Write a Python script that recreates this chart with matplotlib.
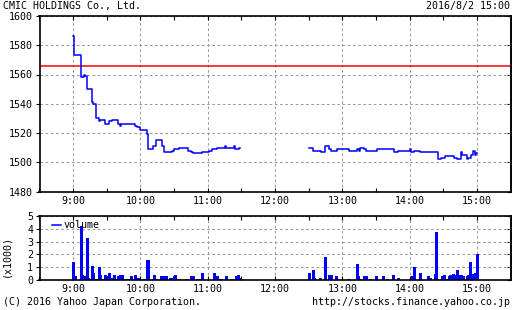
import matplotlib
matplotlib.use("Agg")
import matplotlib.pyplot as plt
from matplotlib.ticker import FixedLocator, FuncFormatter

# price steps: minutes after 9:00, yen
am_minutes = [0, 1, 7, 10, 11, 12, 17, 18, 20, 23, 24, 28, 32, 35, 40, 42, 43, 55, 57, 60,
              66, 67, 71, 74, 79, 81, 88, 90, 94, 102, 105, 107, 115, 121, 124, 128, 135,
              136, 143, 144, 148, 149]
am_prices = [1586, 1573, 1558, 1560, 1559, 1550, 1541, 1540, 1530, 1528, 1529, 1526, 1528,
             1529, 1526, 1525, 1526, 1525, 1524, 1522, 1519, 1509, 1511, 1515, 1511, 1507,
             1508, 1509, 1510, 1508, 1507, 1506, 1507, 1508, 1509, 1510, 1511, 1510, 1511,
             1509, 1510, 1510]
pm_minutes = [210, 214, 221, 225, 228, 230, 235, 246, 253, 255, 256, 259, 261, 271, 286,
              290, 300, 301, 304, 309, 325, 328, 332, 340, 342, 346, 347, 351, 352, 355,
              357, 358, 359, 360]
pm_prices = [1510, 1508, 1507, 1511, 1509, 1508, 1509, 1508, 1509, 1508, 1510, 1509, 1508,
             1509, 1507, 1508, 1509, 1507, 1508, 1507, 1502, 1503, 1504, 1503, 1502, 1507,
             1505, 1502, 1503, 1505, 1508, 1505, 1506, 1506]
prev_close = 1566

# volume (shares) per minute
vol_minutes = [0, 2, 7, 8, 10, 11, 12, 13, 15, 16, 17, 18, 20, 23, 24, 26, 28, 29, 32, 34,
               36, 38, 40, 42, 43, 44, 47, 50, 52, 55, 57, 59, 63, 66, 67, 71, 72, 74, 78,
               80, 82, 83, 86, 88, 90, 91, 94, 101, 105, 107, 110, 112, 115, 126, 128, 129,
               132, 136, 142, 145, 147, 148,
               210, 214, 215, 216, 220, 225, 228, 230, 234, 235, 245, 253, 254, 256, 259,
               261, 265, 270, 276, 280, 285, 290, 300, 302, 304, 309, 316, 318, 323, 324,
               329, 330, 331, 333, 335, 336, 338, 339, 340, 342, 343, 345, 346, 348, 351,
               352, 354, 356, 357, 358, 360]
volumes = [1400, 300, 4200, 400, 200, 300, 3300, 200, 100, 100, 1100, 600, 100, 1000, 400,
           100, 400, 300, 600, 200, 400, 100, 300, 400, 300, 400, 100, 100, 300, 400, 200,
           200, 100, 1600, 1600, 100, 400, 100, 300, 300, 300, 300, 200, 200, 300, 400, 100,
           100, 300, 300, 100, 100, 600, 600, 300, 100, 100, 300, 100, 300, 400, 200,
           600, 800, 200, 100, 200, 1800, 400, 400, 300, 100, 100, 1300, 300, 100, 300,
           300, 100, 300, 300, 100, 400, 200, 100, 300, 1000, 600, 300, 200, 500, 3700,
           300, 300, 400, 100, 300, 400, 300, 500, 400, 800, 400, 400, 400, 300, 300, 400,
           1400, 400, 500, 600, 2000]

hour_ticks = [0, 60, 120, 180, 240, 300, 360]
half_ticks = [-30, 30, 90, 150, 210, 270, 330, 390]
price_ticks = [1480, 1500, 1520, 1540, 1560, 1580, 1600]
vol_ticks = [0, 1, 2, 3, 4, 5]

FONT = "DejaVu Sans Mono"
FS = 7.2
BLUE = "#0000ff"
GRID = "#999999"
plt.rcParams["font.family"] = FONT


def hhmm(v, pos=None):
    m = int(v) + 9 * 60
    return "%d:%02d" % (m // 60, m % 60)


def style(ax, yticks):
    ax.set_xlim(-30, 390)
    ax.xaxis.set_major_locator(FixedLocator(hour_ticks))
    ax.xaxis.set_minor_locator(FixedLocator(half_ticks))
    ax.xaxis.set_major_formatter(FuncFormatter(hhmm))
    ax.set_yticks(yticks)
    ax.tick_params(axis="x", which="both", direction="in", top=True, bottom=True,
                   length=3, width=0.8, labelsize=FS, pad=3)
    ax.tick_params(axis="y", direction="out", length=3, width=0.8, labelsize=FS, pad=1.5)
    sec = ax.secondary_yaxis("right")
    sec.set_yticks(yticks)
    sec.tick_params(direction="in", length=3, width=0.8, labelright=False)
    sec.spines["right"].set_linewidth(1.2)
    for s in ax.spines.values():
        s.set_linewidth(1.2)
    ax.grid(True, which="major", color=GRID, linewidth=0.75, linestyle=(0, (2.5, 2.5)))
    ax.set_axisbelow(True)


fig = plt.figure(figsize=(5.12, 3.10), dpi=100)

ax = fig.add_axes([39.5 / 512, 1 - 191.5 / 310, 471 / 512, 175.5 / 310])
ax.set_ylim(1480, 1600)
style(ax, price_ticks)
ax.axhline(prev_close, color="#ff0000", linewidth=1.1)
ax.plot(am_minutes, am_prices, drawstyle="steps-post", color=BLUE, linewidth=1.1)
ax.plot(pm_minutes, pm_prices, drawstyle="steps-post", color=BLUE, linewidth=1.1)

axv = fig.add_axes([39.5 / 512, 1 - 280.3 / 310, 471 / 512, 64.6 / 310])
axv.set_ylim(0, 5)
style(axv, vol_ticks)
axv.vlines(vol_minutes, 0, [v / 1000 for v in volumes], color=BLUE, linewidth=0.8,
           antialiased=False)
axv.plot([], [], color=BLUE, linewidth=1.1, label="volume")
axv.legend(loc="upper left", frameon=False, fontsize=FS, handlelength=0.9,
           handletextpad=0.3, borderaxespad=0.0, borderpad=0.0,
           bbox_to_anchor=(12 / 471, 0.93))

fig.text(3 / 512, 1 - 6 / 310, "CMIC HOLDINGS Co., Ltd.", fontsize=FS, va="center", ha="left")
fig.text(510 / 512, 1 - 6 / 310, "2016/8/2 15:00", fontsize=FS, va="center", ha="right")
fig.text(6.5 / 512, 1 - 256 / 310, "(x1000)", fontsize=FS, rotation=90, va="center", ha="center")
fig.text(3 / 512, 1 - 302 / 310, "(C) 2016 Yahoo Japan Corporation.", fontsize=FS,
         va="center", ha="left")
fig.text(510 / 512, 1 - 302 / 310, "http://stocks.finance.yahoo.co.jp", fontsize=FS,
         va="center", ha="right")

fig.savefig("out.png", dpi=100)
